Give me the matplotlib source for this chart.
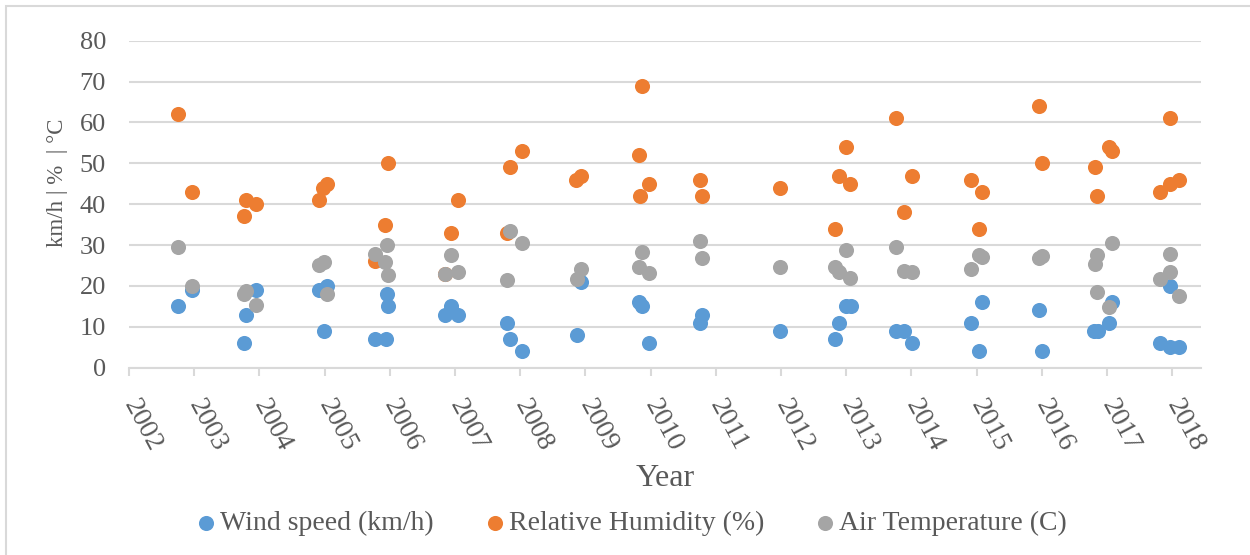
import matplotlib
matplotlib.use("Agg")
import matplotlib.pyplot as plt
from matplotlib.patches import Rectangle

plt.rcParams['font.family'] = ['Liberation Serif', 'DejaVu Serif']

# observation dates (decimal years) and values for each series
wind_x = [2002.75, 2002.97, 2003.76, 2003.80, 2003.95, 2004.92, 2004.99, 2005.03,
          2005.78, 2005.94, 2005.95, 2005.97, 2006.85, 2006.94, 2007.05,
          2007.80, 2007.84, 2008.02, 2008.87, 2008.93, 2009.82, 2009.86, 2009.97,
          2010.76, 2010.78, 2011.99, 2012.82, 2012.89, 2013.00, 2013.07,
          2013.77, 2013.88, 2014.01, 2014.91, 2015.04, 2015.08, 2015.96, 2016.00,
          2016.80, 2016.86, 2017.03, 2017.08, 2017.81, 2017.97, 2017.97, 2018.10]
wind = [15, 19, 6, 13, 19, 19, 9, 20,
        7, 7, 18, 15, 13, 15, 13,
        11, 7, 4, 8, 21, 16, 15, 6,
        11, 13, 9, 7, 11, 15, 15,
        9, 9, 6, 11, 4, 16, 14, 4,
        9, 9, 11, 16, 6, 20, 5, 5]

rh_x = [2002.75, 2002.97, 2003.76, 2003.80, 2003.95, 2004.92, 2004.97, 2005.03,
        2005.77, 2005.93, 2005.97, 2006.85, 2006.94, 2007.05,
        2007.79, 2007.84, 2008.02, 2008.86, 2008.93, 2009.82, 2009.84, 2009.86, 2009.97,
        2010.76, 2010.78, 2011.99, 2012.82, 2012.89, 2013.00, 2013.06,
        2013.77, 2013.88, 2014.01, 2014.91, 2015.04, 2015.08, 2015.96, 2016.00,
        2016.82, 2016.85, 2017.03, 2017.08, 2017.81, 2017.97, 2017.97, 2018.10]
rh = [62, 43, 37, 41, 40, 41, 44, 45,
      26, 35, 50, 23, 33, 41,
      33, 49, 53, 46, 47, 52, 42, 69, 45,
      46, 42, 44, 34, 47, 54, 45,
      61, 38, 47, 46, 34, 43, 64, 50,
      49, 42, 54, 53, 43, 61, 45, 46]

temp_x = [2002.75, 2002.97, 2003.76, 2003.80, 2003.95, 2004.92, 2004.99, 2005.03,
          2005.78, 2005.93, 2005.95, 2005.97, 2006.85, 2006.94, 2007.05,
          2007.80, 2007.84, 2008.02, 2008.87, 2008.93, 2009.82, 2009.86, 2009.97,
          2010.76, 2010.78, 2011.99, 2012.82, 2012.89, 2013.00, 2013.06,
          2013.77, 2013.88, 2014.01, 2014.91, 2015.04, 2015.08, 2015.96, 2016.00,
          2016.81, 2016.84, 2016.85, 2017.03, 2017.08, 2017.81, 2017.97, 2017.97, 2018.10]
temp = [29.6, 20.0, 18.0, 18.8, 15.3, 25.0, 25.8, 18.0,
        27.7, 25.8, 30.0, 22.7, 22.9, 27.6, 23.3,
        21.5, 33.4, 30.4, 21.6, 24.1, 24.6, 28.3, 23.1,
        31.1, 26.9, 24.7, 24.6, 23.3, 28.9, 21.9,
        29.5, 23.7, 23.3, 24.1, 27.6, 27.2, 26.9, 27.4,
        25.4, 18.4, 27.6, 14.9, 30.6, 21.6, 27.9, 23.3, 17.5]

years = list(range(2002, 2019))
yticks = list(range(0, 90, 10))

text_color = '#595959'
grid_color = '#D9D9D9'

fig = plt.figure(figsize=(12.5, 5.55), dpi=100)
ax = fig.add_axes([0.1032, 0.3375, 0.8576, 0.5892])

ax.scatter(wind_x, wind, s=118, color='#5B9BD5', label='Wind speed (km/h)', zorder=3, linewidths=0)
ax.scatter(rh_x, rh, s=118, color='#ED7D31', label='Relative Humidity (%)', zorder=3, linewidths=0)
ax.scatter(temp_x, temp, s=118, color='#A5A5A5', label='Air Temperature (C)', zorder=3, linewidths=0)

ax.set_xlim(2002, 2018.44)
ax.set_ylim(0, 80)
ax.set_yticks(yticks)
ax.set_xticks(years)
ax.set_xticklabels([str(y) for y in years], rotation=-62, rotation_mode='anchor',
                   ha='left', va='center', fontsize=20, color=text_color)
ax.set_yticklabels([str(v) for v in yticks], fontsize=19, color=text_color)

ax.yaxis.grid(True, color=grid_color, linewidth=1.5)
ax.set_axisbelow(True)
for side in ['top', 'right', 'left']:
    ax.spines[side].set_visible(False)
ax.spines['bottom'].set_color(grid_color)
ax.spines['bottom'].set_linewidth(1.5)
ax.tick_params(axis='x', direction='out', length=6, width=1.5, color=grid_color, pad=18)
ax.tick_params(axis='y', length=0, pad=16.5)

ax.set_xlabel('Year', fontsize=23, color=text_color, labelpad=6)
fig.text(0.0456, 0.67, 'km/h | %  | °C', rotation=90, ha='center', va='center',
         fontsize=16.5, color=text_color)

fig.legend(loc='center', bbox_to_anchor=(0.505, 0.057), ncol=3, frameon=False,
           fontsize=20, labelcolor=text_color, handletextpad=0.1, handlelength=0.8,
           columnspacing=1.8, markerscale=1.0)

# thin frame around the chart area
fig.patches.append(Rectangle((6 / 1250, -0.05), 1.1, 1 - 5.5 / 555 + 0.05,
                             transform=fig.transFigure, fill=False,
                             edgecolor=grid_color, linewidth=1.5))

fig.savefig('out.png', dpi=100)
